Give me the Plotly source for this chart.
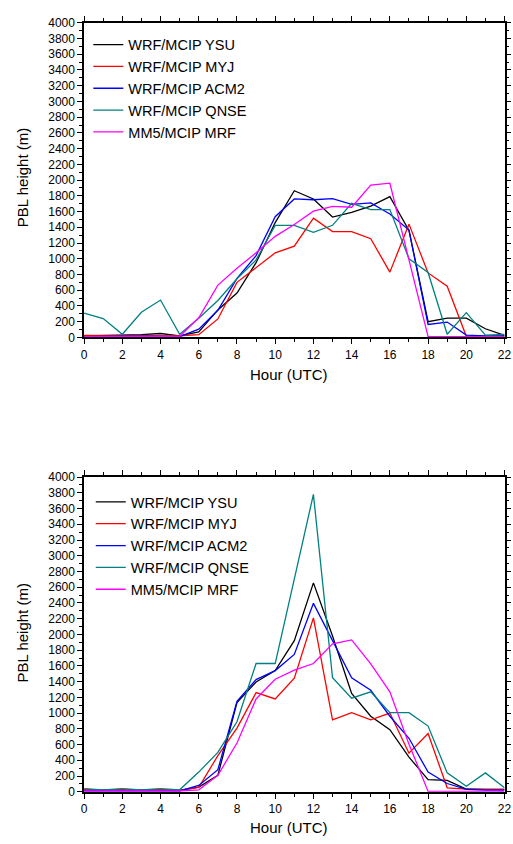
import plotly.graph_objects as go

hours = list(range(23))
series_names = ["WRF/MCIP YSU", "WRF/MCIP MYJ", "WRF/MCIP ACM2", "WRF/MCIP QNSE", "MM5/MCIP MRF"]
series_colors = ["#000000", "#FF0000", "#0000FF", "#008080", "#FF00FF"]

# Top panel
ysu_top = [20, 25, 30, 35, 50, 20, 70, 350, 565, 950, 1460, 1865, 1760, 1530, 1590, 1670, 1790, 1360, 200, 245, 245, 110, 25]
myj_top = [25, 25, 25, 25, 25, 20, 35, 235, 700, 890, 1075, 1160, 1515, 1345, 1345, 1255, 830, 1440, 820, 650, 15, 15, 15]
acm2_top = [10, 15, 15, 15, 15, 10, 105, 345, 750, 1040, 1535, 1760, 1750, 1765, 1690, 1710, 1570, 1365, 165, 195, 30, 20, 20]
qnse_top = [310, 240, 40, 320, 475, 40, 245, 470, 745, 985, 1425, 1425, 1335, 1425, 1705, 1625, 1625, 1000, 825, 40, 315, 30, 40]
mrf_top = [10, 10, 10, 10, 10, 15, 250, 665, 880, 1075, 1285, 1435, 1605, 1665, 1655, 1935, 1960, 990, 10, 10, 10, 10, 10]

# Bottom panel
ysu_bot = [20, 20, 25, 20, 25, 15, 60, 210, 1135, 1395, 1540, 1920, 2655, 1980, 1250, 960, 790, 440, 155, 145, 35, 30, 30]
myj_bot = [30, 25, 30, 25, 30, 20, 55, 460, 810, 1260, 1180, 1445, 2210, 915, 1005, 915, 1000, 490, 740, 50, 33, 33, 29]
acm2_bot = [10, 10, 10, 10, 10, 10, 80, 280, 1150, 1425, 1540, 1745, 2395, 1930, 1450, 1290, 960, 680, 250, 105, 30, 20, 20]
qnse_bot = [40, 25, 40, 25, 40, 25, 250, 500, 890, 1630, 1630, 2700, 3780, 1450, 1190, 1270, 1005, 1005, 835, 240, 70, 240, 50]
mrf_bot = [10, 10, 10, 10, 10, 10, 25, 210, 620, 1180, 1430, 1545, 1630, 1880, 1930, 1625, 1270, 605, 5, 5, 5, 5, 5]

top_series = [ysu_top, myj_top, acm2_top, qnse_top, mrf_top]
bot_series = [ysu_bot, myj_bot, acm2_bot, qnse_bot, mrf_bot]

W, H = 513, 844
FONT = "Liberation Sans, Arial, sans-serif"

fig = go.Figure()
for name, color, vals in zip(series_names, series_colors, top_series):
    fig.add_trace(go.Scatter(x=hours, y=vals, mode="lines", name=name,
                             line=dict(color=color, width=1.3),
                             xaxis="x", yaxis="y", legend="legend"))
for name, color, vals in zip(series_names, series_colors, bot_series):
    fig.add_trace(go.Scatter(x=hours, y=vals, mode="lines", name=name,
                             line=dict(color=color, width=1.3),
                             xaxis="x2", yaxis="y2", legend="legend2"))

x_dom = [82.7 / W, 511.5 / W]
top_dom = [(H - 336) / H, (H - 16) / H]
bot_dom = [(H - 798) / H, (H - 478) / H]

def xax(anchor):
    return dict(domain=x_dom, anchor=anchor, range=[0, 22], tick0=0, dtick=2,
                showline=True, linecolor="black", linewidth=1.5, mirror="allticks",
                ticks="outside", ticklen=5, tickwidth=1, tickcolor="black",
                minor=dict(dtick=1, ticks="outside", ticklen=3, tickcolor="black", tickwidth=1),
                showgrid=False, zeroline=False, ticklabeloverflow="allow",
                tickfont=dict(family=FONT, size=12, color="black"))

def yax(anchor, dom):
    return dict(domain=dom, anchor=anchor, range=[0, 4000], tick0=0, dtick=200,
                showline=True, linecolor="black", linewidth=1.5, mirror="allticks",
                ticks="outside", ticklen=5, tickwidth=1, tickcolor="black",
                minor=dict(dtick=100, ticks="outside", ticklen=3, tickcolor="black", tickwidth=1),
                showgrid=False, zeroline=False,
                tickfont=dict(family=FONT, size=12, color="black"))

legend_common = dict(bgcolor="rgba(0,0,0,0)", borderwidth=0, xanchor="left", yanchor="top",
                     font=dict(family=FONT, size=14.5, color="black"), tracegroupgap=0)

fig.update_layout(
    width=W, height=H,
    margin=dict(l=0, r=0, t=0, b=0),
    paper_bgcolor="white", plot_bgcolor="white",
    font=dict(family=FONT, color="black"),
    xaxis=xax("y"), yaxis=yax("x", top_dom),
    xaxis2=xax("y2"), yaxis2=yax("x2", bot_dom),
    legend=dict(x=87 / W, y=(H - 22) / H, **legend_common),
    legend2=dict(x=89.5 / W, y=(H - 487) / H, **legend_common),
    showlegend=True,
)

title_font = dict(family=FONT, size=15, color="black")
annotations = [
    dict(text="Hour (UTC)", x=292 / W, y=(H - 374) / H, xref="paper", yref="paper",
         showarrow=False, font=title_font, xanchor="center", yanchor="middle"),
    dict(text="Hour (UTC)", x=292 / W, y=(H - 834) / H, xref="paper", yref="paper",
         showarrow=False, font=title_font, xanchor="center", yanchor="middle"),
    dict(text="PBL height (m)", x=19.5 / W, y=(H - 173) / H, xref="paper", yref="paper",
         showarrow=False, font=title_font, textangle=-90, xanchor="center", yanchor="middle"),
    dict(text="PBL height (m)", x=19.5 / W, y=(H - 636) / H, xref="paper", yref="paper",
         showarrow=False, font=title_font, textangle=-90, xanchor="center", yanchor="middle"),
]
fig.update_layout(annotations=annotations)

fig.write_html(
    "out.html",
    post_script="document.body.style.margin='0';document.body.style.padding='0';",
)
